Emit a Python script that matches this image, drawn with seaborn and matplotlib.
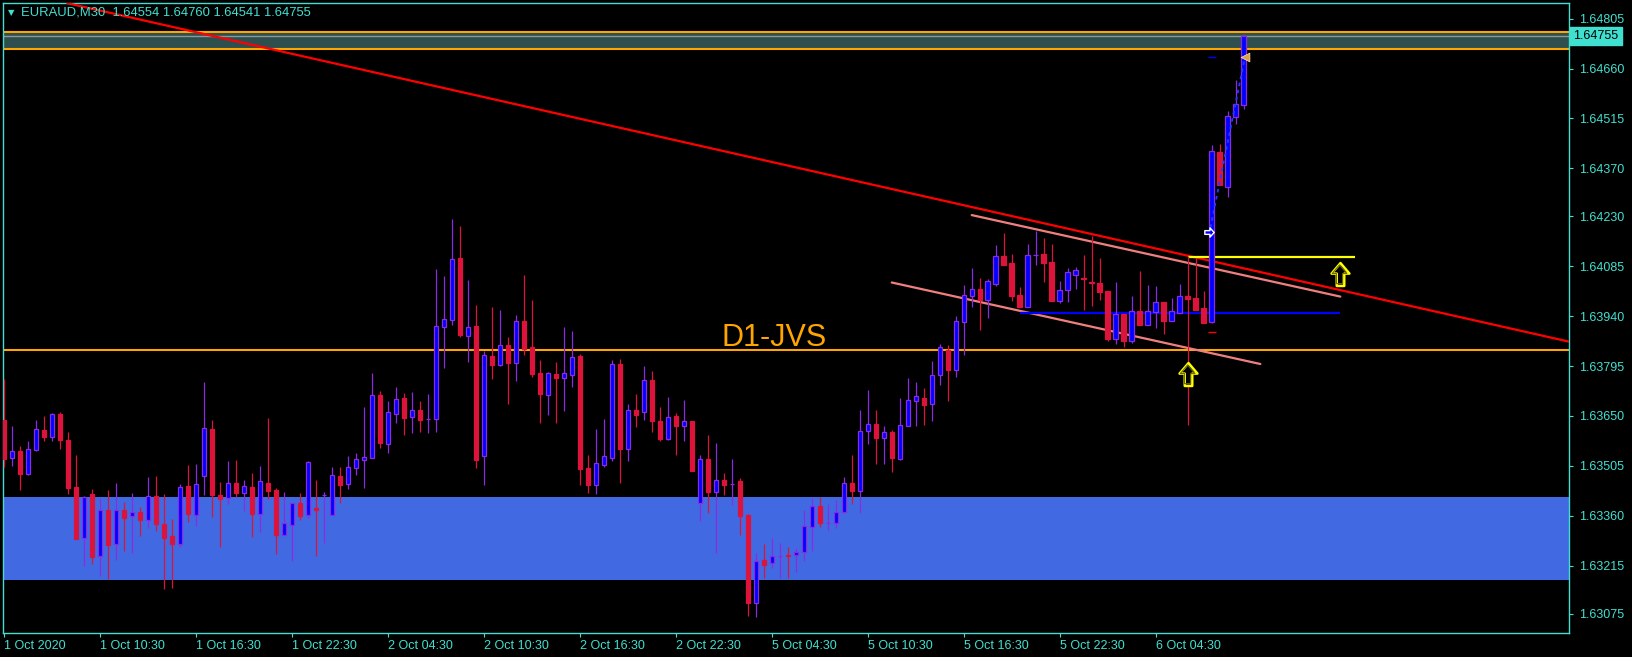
import numpy as np
import pandas as pd
import matplotlib
matplotlib.use("Agg")
import matplotlib.pyplot as plt
import matplotlib.transforms as mtransforms
from matplotlib.path import Path
import seaborn as sns

# ---------------- data ----------------
symbol = "EURAUD,M30"
opens = [1.63638, 1.63529, 1.63548, 1.63482, 1.63552, 1.63609, 1.63590, 1.63656, 1.63580, 1.63444,
         1.63296, 1.63423, 1.63244, 1.63377, 1.63279, 1.63377, 1.63360, 1.63371, 1.63348, 1.63417,
         1.63336, 1.63301, 1.63279, 1.63446, 1.63363, 1.63474, 1.63612, 1.63420, 1.63411, 1.63454,
         1.63427, 1.63444, 1.63366, 1.63455, 1.63435, 1.63305, 1.63334, 1.63397, 1.63363, 1.63382,
         1.63420, 1.63363, 1.63476, 1.63453, 1.63500, 1.63523, 1.63529, 1.63711, 1.63569, 1.63657,
         1.63702, 1.63647, 1.63667, 1.63642, 1.63642, 1.63910, 1.63930, 1.64109, 1.63883, 1.63912,
         1.63534, 1.63824, 1.63799, 1.63856, 1.63805, 1.63926, 1.63851, 1.63775, 1.63712, 1.63772,
         1.63761, 1.63770, 1.63824, 1.63499, 1.63450, 1.63508, 1.63529, 1.63801, 1.63555, 1.63667,
         1.63662, 1.63755, 1.63636, 1.63584, 1.63650, 1.63622, 1.63635, 1.63396, 1.63525, 1.63430,
         1.63464, 1.63453, 1.63461, 1.63361, 1.63107, 1.63231, 1.63222, 1.63244, 1.63246, 1.63245,
         1.63254, 1.63328, 1.63388, 1.63340, 1.63340, 1.63372, 1.63455, 1.63433, 1.63607, 1.63627,
         1.63587, 1.63603, 1.63526, 1.63622, 1.63694, 1.63702, 1.63686, 1.63770, 1.63842, 1.63785,
         1.63924, 1.64000, 1.64018, 1.63988, 1.64035, 1.64115, 1.64095, 1.64001, 1.63968, 1.64117,
         1.64121, 1.64098, 1.63985, 1.64017, 1.64061, 1.64050, 1.64038, 1.64036, 1.64013, 1.63875,
         1.63947, 1.63869, 1.63954, 1.63915, 1.63953, 1.63981, 1.63927, 1.63950, 1.63999, 1.63993,
         1.63964, 1.63924, 1.64418, 1.64317, 1.64520, 1.64554]
highs = [1.63758, 1.63621, 1.63563, 1.63577, 1.63638, 1.63650, 1.63658, 1.63662, 1.63603, 1.63537,
         1.63417, 1.63438, 1.63412, 1.63435, 1.63455, 1.63400, 1.63426, 1.63385, 1.63473, 1.63476,
         1.63423, 1.63350, 1.63452, 1.63508, 1.63510, 1.63749, 1.63638, 1.63458, 1.63519, 1.63522,
         1.63464, 1.63484, 1.63505, 1.63644, 1.63441, 1.63429, 1.63397, 1.63426, 1.63519, 1.63464,
         1.63429, 1.63502, 1.63502, 1.63534, 1.63542, 1.63676, 1.63775, 1.63723, 1.63694, 1.63734,
         1.63717, 1.63720, 1.63694, 1.63714, 1.64077, 1.64057, 1.64223, 1.64202, 1.64045, 1.63973,
         1.63839, 1.63967, 1.63958, 1.63880, 1.63944, 1.64060, 1.63987, 1.63813, 1.63778, 1.63807,
         1.63909, 1.63897, 1.63830, 1.63537, 1.63612, 1.63641, 1.63813, 1.63816, 1.63685, 1.63714,
         1.63795, 1.63781, 1.63676, 1.63705, 1.63659, 1.63697, 1.63635, 1.63537, 1.63595, 1.63571,
         1.63484, 1.63525, 1.63470, 1.63365, 1.63252, 1.63278, 1.63295, 1.63281, 1.63269, 1.63266,
         1.63377, 1.63412, 1.63414, 1.63394, 1.63406, 1.63473, 1.63537, 1.63667, 1.63726, 1.63667,
         1.63621, 1.63609, 1.63702, 1.63760, 1.63749, 1.63731, 1.63810, 1.63859, 1.63856, 1.63941,
         1.64030, 1.64080, 1.64051, 1.64048, 1.64147, 1.64182, 1.64121, 1.64025, 1.64150, 1.64188,
         1.64168, 1.64150, 1.64043, 1.64080, 1.64083, 1.64118, 1.64173, 1.64109, 1.64013, 1.64040,
         1.63947, 1.63999, 1.64072, 1.64031, 1.64028, 1.63981, 1.63993, 1.64034, 1.64115, 1.64109,
         1.64013, 1.64438, 1.64441, 1.64537, 1.64627, 1.64760]
lows = [1.63502, 1.63505, 1.63435, 1.63478, 1.63549, 1.63577, 1.63577, 1.63555, 1.63423, 1.63292,
        1.63214, 1.63220, 1.63185, 1.63176, 1.63231, 1.63257, 1.63252, 1.63301, 1.63324, 1.63316,
        1.63147, 1.63150, 1.63269, 1.63342, 1.63330, 1.63420, 1.63357, 1.63270, 1.63395, 1.63414,
        1.63375, 1.63299, 1.63313, 1.63410, 1.63250, 1.63305, 1.63229, 1.63348, 1.63354, 1.63244,
        1.63281, 1.63363, 1.63398, 1.63438, 1.63478, 1.63441, 1.63529, 1.63557, 1.63542, 1.63630,
        1.63595, 1.63600, 1.63604, 1.63601, 1.63604, 1.63790, 1.63915, 1.63880, 1.63808, 1.63500,
        1.63450, 1.63756, 1.63796, 1.63686, 1.63753, 1.63828, 1.63764, 1.63630, 1.63654, 1.63630,
        1.63665, 1.63735, 1.63450, 1.63427, 1.63424, 1.63502, 1.63520, 1.63454, 1.63520, 1.63619,
        1.63639, 1.63604, 1.63578, 1.63581, 1.63537, 1.63578, 1.63491, 1.63346, 1.63369, 1.63252,
        1.63421, 1.63392, 1.63305, 1.63069, 1.63066, 1.63180, 1.63209, 1.63180, 1.63180, 1.63197,
        1.63229, 1.63258, 1.63328, 1.63319, 1.63325, 1.63369, 1.63395, 1.63369, 1.63569, 1.63511,
        1.63511, 1.63488, 1.63523, 1.63622, 1.63622, 1.63625, 1.63636, 1.63741, 1.63694, 1.63764,
        1.63828, 1.63968, 1.63901, 1.63936, 1.64029, 1.64090, 1.63985, 1.63968, 1.63968, 1.64089,
        1.64040, 1.63985, 1.63977, 1.63982, 1.64020, 1.63959, 1.63971, 1.63988, 1.63869, 1.63860,
        1.63851, 1.63863, 1.63915, 1.63915, 1.63907, 1.63889, 1.63927, 1.63950, 1.63623, 1.63958,
        1.63921, 1.63921, 1.64322, 1.64288, 1.64500, 1.64541]
closes = [1.63525, 1.63548, 1.63482, 1.63553, 1.63611, 1.63590, 1.63656, 1.63580, 1.63442, 1.63292,
          1.63414, 1.63241, 1.63377, 1.63275, 1.63377, 1.63354, 1.63370, 1.63348, 1.63417, 1.63337,
          1.63296, 1.63279, 1.63444, 1.63365, 1.63452, 1.63615, 1.63421, 1.63408, 1.63454, 1.63427,
          1.63446, 1.63366, 1.63460, 1.63433, 1.63305, 1.63339, 1.63397, 1.63360, 1.63516, 1.63378,
          1.63420, 1.63478, 1.63449, 1.63502, 1.63525, 1.63531, 1.63711, 1.63571, 1.63662, 1.63699,
          1.63644, 1.63667, 1.63639, 1.63642, 1.63912, 1.63932, 1.64107, 1.63886, 1.63909, 1.63523,
          1.63827, 1.63799, 1.63856, 1.63805, 1.63926, 1.63846, 1.63773, 1.63715, 1.63775, 1.63761,
          1.63775, 1.63822, 1.63497, 1.63450, 1.63513, 1.63534, 1.63801, 1.63555, 1.63667, 1.63654,
          1.63755, 1.63636, 1.63584, 1.63647, 1.63622, 1.63635, 1.63491, 1.63525, 1.63430, 1.63464,
          1.63450, 1.63453, 1.63360, 1.63107, 1.63227, 1.63217, 1.63243, 1.63244, 1.63244, 1.63254,
          1.63329, 1.63388, 1.63338, 1.63340, 1.63371, 1.63455, 1.63433, 1.63606, 1.63627, 1.63587,
          1.63603, 1.63529, 1.63624, 1.63697, 1.63708, 1.63683, 1.63769, 1.63851, 1.63785, 1.63926,
          1.64001, 1.64018, 1.63988, 1.64043, 1.64115, 1.64090, 1.64000, 1.63968, 1.64118, 1.64117,
          1.64096, 1.63985, 1.64016, 1.64069, 1.64075, 1.64049, 1.64037, 1.64011, 1.63875, 1.63947,
          1.63869, 1.63954, 1.63915, 1.63954, 1.63981, 1.63927, 1.63954, 1.63999, 1.63991, 1.63958,
          1.63921, 1.64421, 1.64322, 1.64522, 1.64557, 1.64755]

x_tick_bars = [0, 12, 24, 36, 48, 60, 72, 84, 96, 108, 120, 132, 144]
x_tick_labels = ["1 Oct 2020", "1 Oct 10:30", "1 Oct 16:30", "1 Oct 22:30", "2 Oct 04:30",
                 "2 Oct 10:30", "2 Oct 16:30", "2 Oct 22:30", "5 Oct 04:30", "5 Oct 10:30",
                 "5 Oct 16:30", "5 Oct 22:30", "6 Oct 04:30"]
y_tick_values = [1.64805, 1.64660, 1.64515, 1.64370, 1.64230, 1.64085, 1.63940,
                 1.63795, 1.63650, 1.63505, 1.63360, 1.63215, 1.63075]

# drawn objects (price levels / trendline anchors)
zone_top_band = [1.64717, 1.64765]
demand_zone = [1.63172, 1.63414]
d1_level = 1.63843
red_trend_x = [7.9, 195.7]
red_trend_y = [1.64850, 1.63866]
chan_upper_x = [121.0, 167.1]
chan_upper_y = [1.64234, 1.63997]
chan_lower_x = [111.0, 157.1]
chan_lower_y = [1.64038, 1.63801]
yellow_level = 1.64113
yellow_span = [148, 168.9]
blue_level = 1.63950
blue_span = [127.1, 167.1]
arrow_x = [148, 167]
arrow_y = [1.63771, 1.64062]
trade_x = [150.85, 155.1]
trade_y = [1.64197, 1.64685]
tp_level = 1.64693
sl_level = 1.63894

# ---------------- style ----------------
TURQ = "#40E0D0"
sns.set_theme(style="dark")
plt.rcParams["font.family"] = ["Liberation Sans", "DejaVu Sans"]

df = pd.DataFrame({"open": opens, "high": highs, "low": lows, "close": closes})
df["bar"] = np.arange(len(df))
bull = df["close"] >= df["open"]

W, H = 1633, 657
fig = plt.figure(figsize=(W / 100, H / 100), dpi=100)
fig.patch.set_facecolor("black")
ax = fig.add_axes([3 / W, 24 / H, (1569 - 3) / W, (654.5 - 24) / H])
ax.set_facecolor("black")
ax.grid(False)

# zones
ax.axhspan(*demand_zone, color="#4169E1", lw=0, zorder=1)
ax.axhspan(*zone_top_band, color="#2F4F4F", lw=0, zorder=1)
for lv in zone_top_band:
    ax.axhline(lv, color="#FFA500", lw=1.5, zorder=2)
ax.axhline(closes[-1], color="#8A9A9A", lw=1.0, zorder=2)
ax.axhline(d1_level, color="#FFA500", lw=1.5, zorder=2)

# trend lines via seaborn
sns.lineplot(x=red_trend_x, y=red_trend_y, ax=ax, color="#FF0000", linewidth=1.6,
             sort=False, estimator=None, zorder=3)
sns.lineplot(x=chan_upper_x, y=chan_upper_y, ax=ax, color="#F08080", linewidth=1.6,
             sort=False, estimator=None, zorder=3)
sns.lineplot(x=chan_lower_x, y=chan_lower_y, ax=ax, color="#F08080", linewidth=1.6,
             sort=False, estimator=None, zorder=3)
ax.hlines(yellow_level, yellow_span[0], yellow_span[1], color="#FFFF00", lw=1.6, zorder=3)
ax.hlines(blue_level, blue_span[0], blue_span[1], color="#0000FF", lw=1.6, zorder=3)

# candles
wick_colors = np.where(bull, "#8A2BE2", "#DC143C")
face_colors = np.where(bull, "#0000FF", "#DC143C")
ax.vlines(df["bar"], df["low"], df["high"], colors=wick_colors, lw=0.9, zorder=4)
body_bottom = np.minimum(df["open"], df["close"])
body_height = np.abs(df["close"] - df["open"])
ax.bar(df["bar"], body_height, bottom=body_bottom, width=0.55, color=face_colors,
       edgecolor=wick_colors, linewidth=0.9, zorder=5)

# trade markers
sns.lineplot(x=trade_x, y=trade_y, ax=ax, color="#1E3CFF", linewidth=1.3,
             sort=False, estimator=None, zorder=6, dashes=False, linestyle=(0, (2, 2)))
ax.hlines(tp_level, 150.6, 151.5, color="#0000FF", lw=1.0, zorder=6)
ax.hlines(sl_level, 150.6, 151.5, color="#FF0000", lw=1.0, zorder=6)
right_arrow = Path([(-1, 0.4), (0.1, 0.4), (0.1, 1), (1, 0), (0.1, -1), (0.1, -0.4), (-1, -0.4), (-1, 0.4)],
                   [Path.MOVETO] + [Path.LINETO] * 6 + [Path.CLOSEPOLY])
ax.scatter([trade_x[0] - 0.15], [trade_y[0] - 0.00012], marker=right_arrow, s=45,
           facecolor="#0000FF", edgecolor="white", linewidths=1.0, zorder=7)
ax.scatter([trade_x[1] + 0.1], [tp_level], marker="<", s=40, facecolor="#E0A040",
           edgecolor="#F5E6C8", linewidths=0.5, zorder=7)

# up arrows
up_arrow = Path([(0, 1.28), (1, 0.1), (0.42, 0.1), (0.42, -1.28), (-0.42, -1.28), (-0.42, 0.1), (-1, 0.1), (0, 1.28)],
                [Path.MOVETO] + [Path.LINETO] * 6 + [Path.CLOSEPOLY])
ax.scatter(arrow_x, arrow_y, marker=up_arrow, s=16.5 ** 2, facecolor="black",
           edgecolor="#FFFF00", linewidths=1.8, zorder=7)
ax.scatter(arrow_x, arrow_y, marker=up_arrow, s=13.5 ** 2, facecolor="none",
           edgecolor="#6B6B00", linewidths=0.8, zorder=7)

# label text
ax.text(89.7, 1.63852, "D1-JVS", color="#FFA500", fontsize=22, ha="left", va="baseline",
        family=["Liberation Sans", "DejaVu Sans"], zorder=8)

# header
ax.text(0.0052, 0.9845, "\u25BC", transform=ax.transAxes, color=TURQ, fontsize=6,
        ha="center", va="center", family=["DejaVu Sans"])
ax.text(0.0113, 0.9845, f"{symbol}  {opens[-1]:.5f} {highs[-1]:.5f} {lows[-1]:.5f} {closes[-1]:.5f}",
        transform=ax.transAxes, color=TURQ, fontsize=9.4, ha="left", va="center")

# current price box
blend = mtransforms.blended_transform_factory(ax.transAxes, ax.transData)
ax.text(1.0028, closes[-1], f"{closes[-1]:.5f}", transform=blend, color="black", fontsize=9,
        ha="left", va="center", clip_on=False,
        bbox=dict(boxstyle="square,pad=0.26", fc=TURQ, ec=TURQ), zorder=9)

# axes
ax.set_xlim(-0.15, 195.7)
ax.set_ylim(1.63019, 1.64852)
ax.yaxis.tick_right()
ax.set_yticks(y_tick_values)
ax.set_yticklabels([f"{v:.5f}" for v in y_tick_values])
ax.set_xticks(x_tick_bars)
ax.set_xticklabels(x_tick_labels)
for lbl in ax.get_xticklabels():
    lbl.set_ha("left")
ax.tick_params(axis="both", colors=TURQ, labelcolor=TURQ, labelsize=9, length=3, width=0.8,
               direction="out")
ax.tick_params(axis="x", pad=2, bottom=True)
ax.tick_params(axis="y", pad=4, right=True, left=False)
for s in ax.spines.values():
    s.set_visible(True)
    s.set_color(TURQ)
    s.set_linewidth(1.0)
ax.set_xlabel("")
ax.set_ylabel("")
leg = ax.get_legend()
if leg is not None:
    leg.remove()

fig.savefig("out.png", dpi=100, facecolor="black")
